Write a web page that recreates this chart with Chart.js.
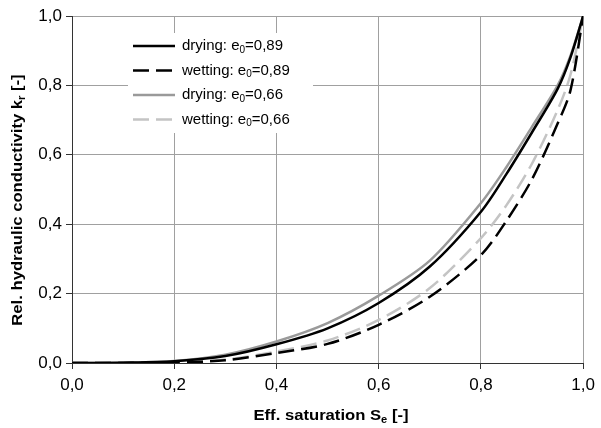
<!DOCTYPE html>
<html>
<head>
<meta charset="utf-8">
<script src="https://cdn.jsdelivr.net/npm/chart.js@4.4.0/dist/chart.umd.min.js"></script>
<style>
  body { margin: 0; background: #fff; }
  #kGraph { display: block; }
</style>
</head>
<body>
<canvas id="kGraph" width="601" height="428"></canvas>
<script>
// effective saturation (x) and relative conductivity k_r (y)
const saturation = [0, 0.1, 0.2, 0.3, 0.4, 0.5, 0.6, 0.7, 0.8, 0.85, 0.9, 0.95, 0.975, 1.0];
const drying089  = [0, 0.001, 0.005, 0.020, 0.054, 0.100, 0.173, 0.278, 0.436, 0.545, 0.665, 0.790, 0.880, 1.0];
const wetting089 = [0, 0.000, 0.001, 0.008, 0.029, 0.055, 0.110, 0.191, 0.311, 0.410, 0.530, 0.690, 0.785, 1.0];
const drying066  = [0, 0.001, 0.006, 0.024, 0.062, 0.115, 0.194, 0.295, 0.461, 0.565, 0.681, 0.800, 0.885, 1.0];
const wetting066 = [0, 0.000, 0.002, 0.010, 0.033, 0.065, 0.124, 0.216, 0.360, 0.455, 0.575, 0.729, 0.830, 1.0];

const xTicks = [0, 0.2, 0.4, 0.6, 0.8, 1.0];
const yTicks = [0, 0.2, 0.4, 0.6, 0.8, 1.0];
const seriesNames = [
    ['drying: e', '0', '=0,89'],
    ['wetting: e', '0', '=0,89'],
    ['drying: e', '0', '=0,66'],
    ['wetting: e', '0', '=0,66']
];

const FONT = '"Liberation Sans", Arial, sans-serif';

function toPoints(ys) {
    return saturation.map((x, i) => ({ x: x, y: ys[i] }));
}

function fmt(v) {
    return v.toFixed(1).replace('.', ',');
}

// draw text with a subscript part (middle part), left aligned at x
function drawRich(ctx, parts, x, y, size, weight) {
    let cx = x;
    parts.forEach((p, i) => {
        const sub = (i === 1);
        const s = sub ? Math.round(size * 0.65) : size;
        ctx.font = weight + ' ' + s + 'px ' + FONT;
        ctx.fillText(p, cx, sub ? y + size * 0.28 : y);
        cx += ctx.measureText(p).width;
    });
    return cx - x;
}

function richWidth(ctx, parts, size, weight) {
    let w = 0;
    parts.forEach((p, i) => {
        const s = (i === 1) ? Math.round(size * 0.65) : size;
        ctx.font = weight + ' ' + s + 'px ' + FONT;
        w += ctx.measureText(p).width;
    });
    return w;
}

const styles = [
    { color: '#000000', dash: [] },
    { color: '#000000', dash: [16, 7] },
    { color: '#9a9a9a', dash: [] },
    { color: '#c4c4c4', dash: [16, 7] }
];

const overlay = {
    id: 'overlay',
    afterDraw(chart) {
        const ctx = chart.ctx;
        ctx.save();
        ctx.textBaseline = 'middle';
        ctx.textAlign = 'left';

        // legend box inside plot
        ctx.fillStyle = '#fff';
        ctx.fillRect(128, 33, 185, 100);
        const rows = [46, 70.5, 95, 119.5];
        rows.forEach((ry, i) => {
            ctx.strokeStyle = styles[i].color;
            ctx.lineWidth = 2.5;
            ctx.setLineDash(styles[i].dash);
            ctx.beginPath();
            ctx.moveTo(133, ry);
            ctx.lineTo(175, ry);
            ctx.stroke();
            ctx.setLineDash([]);
            ctx.fillStyle = '#000';
            drawRich(ctx, seriesNames[i], 182, ry, 15, 'normal');
        });

        // x axis title (the original text is set a bit wide)
        const xt = ['Eff. saturation S', 'e', ' [-]'];
        const xw = richWidth(ctx, xt, 15, 'bold');
        ctx.save();
        ctx.translate(331, 416);
        ctx.scale(1.11, 1);
        drawRich(ctx, xt, -xw / 2, 0, 15, 'bold');
        ctx.restore();

        // y axis title
        const yt = ['Rel. hydraulic conductivity k', 'r', ' [-]'];
        const yw = richWidth(ctx, yt, 15, 'bold');
        ctx.save();
        ctx.translate(18, 200);
        ctx.rotate(-Math.PI / 2);
        ctx.scale(1.11, 1);
        drawRich(ctx, yt, -yw / 2, 0, 15, 'bold');
        ctx.restore();
        ctx.restore();
    }
};

const datasets = [drying089, wetting089, drying066, wetting066].map((ys, i) => ({
    label: seriesNames[i].join(''),
    data: toPoints(ys),
    borderColor: styles[i].color,
    borderDash: styles[i].dash,
    borderWidth: 2.5,
    pointRadius: 0,
    tension: 0.3,
    fill: false
}));

const chart = new Chart(document.getElementById('kGraph').getContext('2d'), {
    type: 'line',
    data: { datasets: datasets },
    options: {
        responsive: false,
        animation: false,
        layout: { padding: { top: 16, right: 12, left: 0, bottom: 0 } },
        plugins: { legend: { display: false }, tooltip: { enabled: false } },
        scales: {
            x: {
                type: 'linear',
                min: 0, max: 1,
                afterFit: s => { s.height = 65; },
                afterBuildTicks: s => { s.ticks = xTicks.map(v => ({ value: v })); },
                grid: { color: '#a0a0a0', tickColor: '#333', tickLength: 6 },
                border: { color: '#333' },
                ticks: { color: '#000', padding: 6, font: { family: FONT, size: 17 }, callback: v => fmt(v), maxRotation: 0 }
            },
            y: {
                min: 0, max: 1,
                afterFit: s => { s.width = 72; },
                afterBuildTicks: s => { s.ticks = yTicks.map(v => ({ value: v })); },
                grid: { color: '#a0a0a0', tickColor: '#333', tickLength: 6 },
                border: { color: '#333' },
                ticks: { color: '#000', padding: 4, font: { family: FONT, size: 17 }, callback: v => fmt(v) }
            }
        }
    },
    plugins: [overlay]
});
</script>
</body>
</html>
